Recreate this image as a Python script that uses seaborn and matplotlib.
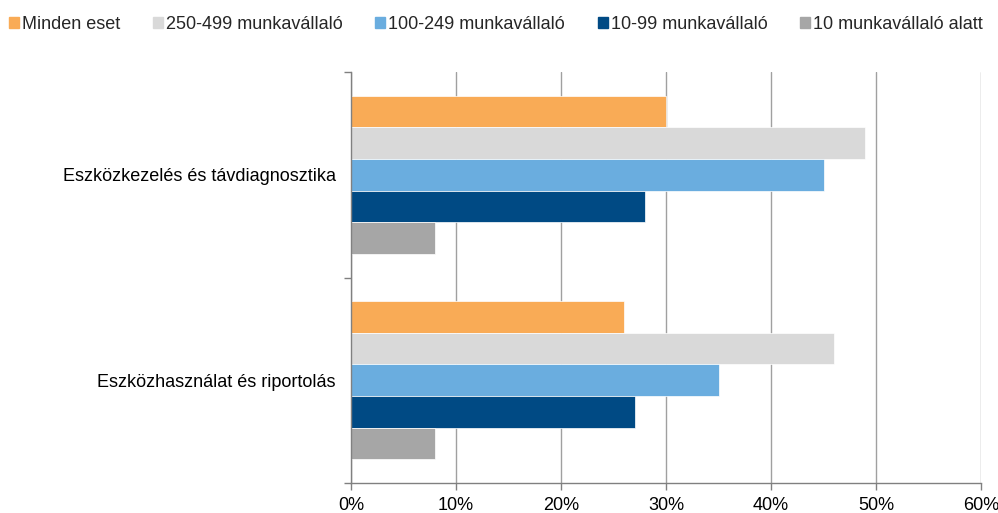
import matplotlib
matplotlib.use("Agg")
import matplotlib.pyplot as plt
import seaborn as sns
import pandas as pd
from matplotlib.ticker import FixedLocator, PercentFormatter

categories = ["Eszközkezelés és távdiagnosztika", "Eszközhasználat és riportolás"]
series = ["Minden eset", "250-499 munkavállaló", "100-249 munkavállaló",
          "10-99 munkavállaló", "10 munkavállaló alatt"]
values = {
    "Minden eset": [30, 26],
    "250-499 munkavállaló": [49, 46],
    "100-249 munkavállaló": [45, 35],
    "10-99 munkavállaló": [28, 27],
    "10 munkavállaló alatt": [8, 8],
}
colors = ["#F9AB56", "#D9D9D9", "#6AADDF", "#004A84", "#A6A6A6"]
x_ticks = [0, 10, 20, 30, 40, 50, 60]

rows = []
for s in series:
    for c, v in zip(categories, values[s]):
        rows.append({"kategoria": c, "sorozat": s, "ertek": v})
df = pd.DataFrame(rows)

sns.set_style("white")
plt.rcParams["font.family"] = ["Liberation Sans", "DejaVu Sans"]
plt.rcParams["font.size"] = 13

fig = plt.figure(figsize=(9.98, 5.13), dpi=100)
ax = fig.add_axes([351 / 998, 1 - 483 / 513, 630 / 998, 411 / 513])

sns.barplot(data=df, y="kategoria", x="ertek", hue="sorozat", orient="h",
            hue_order=series, palette=colors, saturation=1, width=0.77, gap=0,
            edgecolor="white", linewidth=0.5, ax=ax, legend=False, zorder=3)

ax.set_xlim(0, 60)
ax.set_ylim(1.5, -0.5)
ax.xaxis.set_major_locator(FixedLocator(x_ticks))
ax.xaxis.set_major_formatter(PercentFormatter(decimals=0))
ax.grid(axis="x", color="#A0A0A0", linewidth=1, zorder=0)
ax.grid(axis="y", visible=False)
ax.set_xlabel("")
ax.set_ylabel("")

# tick marks sit between the categories, labels stay centred
ax.yaxis.set_minor_locator(FixedLocator([-0.5, 0.5, 1.5]))
ax.tick_params(axis="y", which="major", left=False, length=0, pad=11,
               labelsize=13, labelcolor="#000000")
ax.tick_params(axis="y", which="minor", left=True, length=5,
               color="#808080", width=1)
ax.tick_params(axis="x", which="major", bottom=True, length=5,
               color="#808080", width=1, labelsize=13, pad=5,
               labelcolor="#000000")

for side in ["top", "right"]:
    ax.spines[side].set_visible(False)
for side in ["left", "bottom"]:
    ax.spines[side].set_color("#808080")
    ax.spines[side].set_linewidth(1)
    ax.spines[side].set_zorder(4)

handles = [plt.Rectangle((0, 0), 1, 1, color=c) for c in colors]
fig.legend(handles, series, loc="upper center", bbox_to_anchor=(0.497, 1.0),
           ncol=5, frameon=False, fontsize=13, handlelength=0.55,
           handleheight=0.55, handletextpad=0.17, columnspacing=1.8)

fig.savefig("out.png", dpi=100)
